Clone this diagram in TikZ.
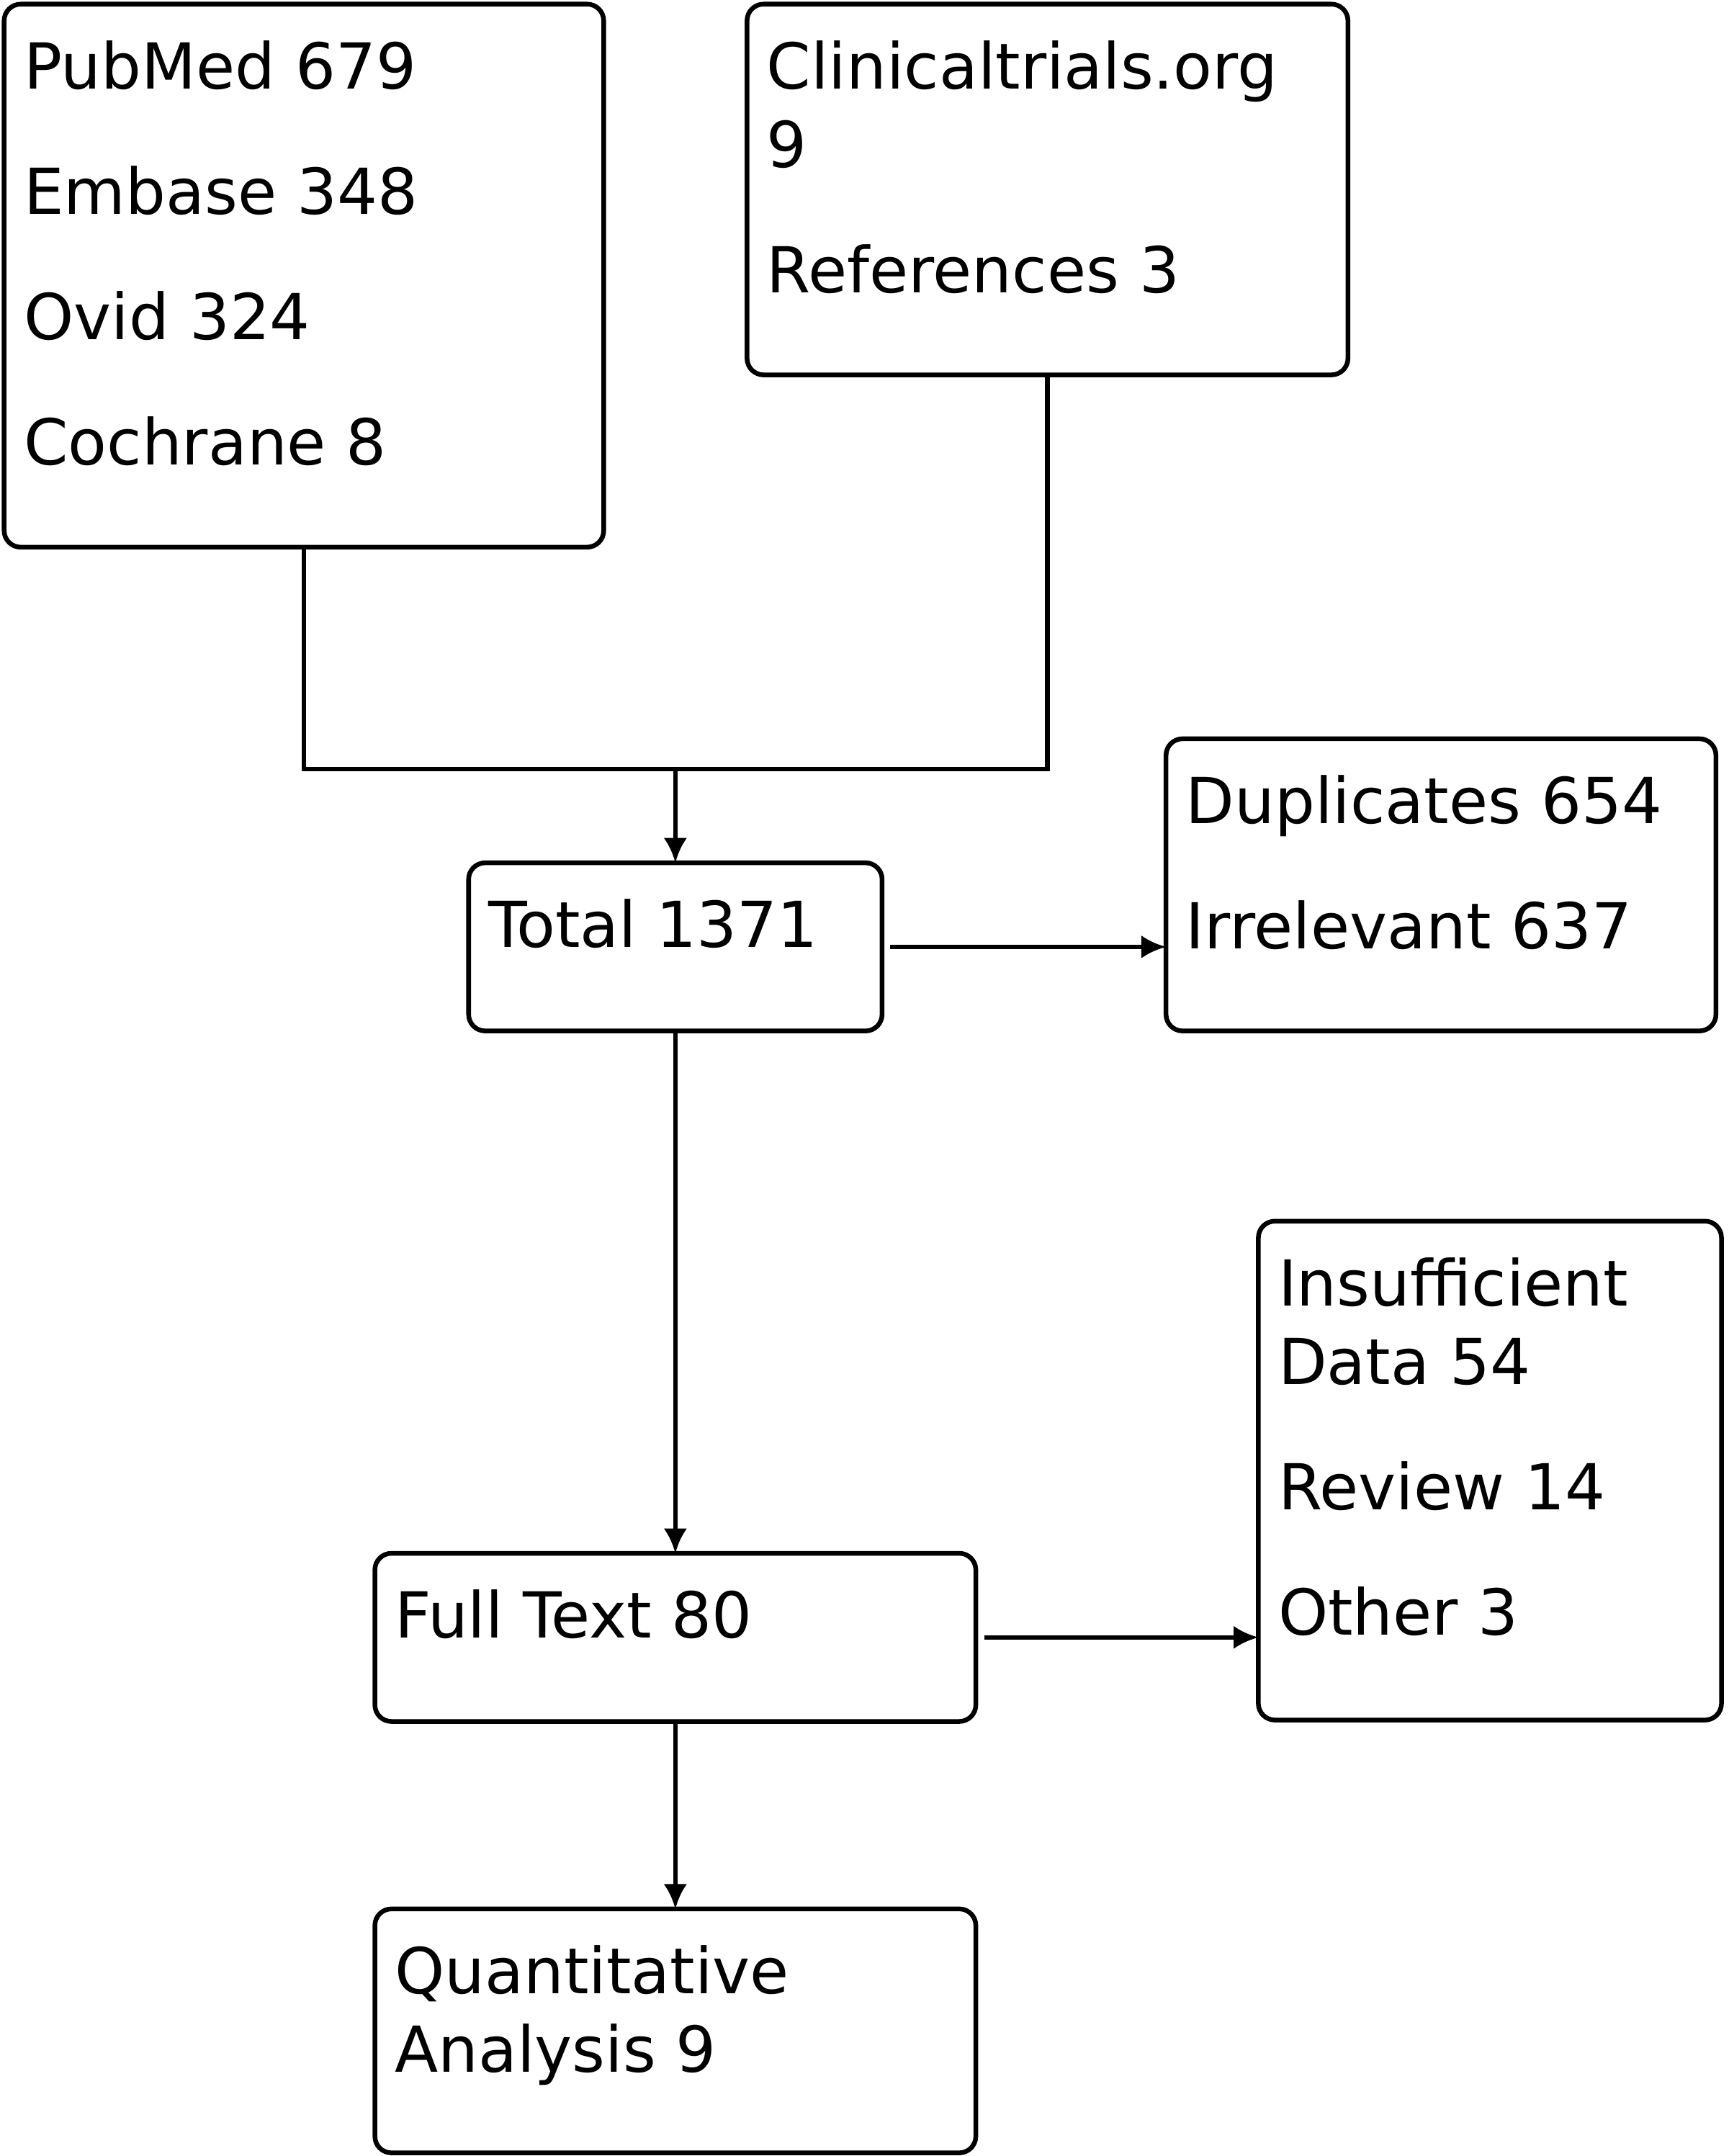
\documentclass[tikz,border=0pt]{standalone}
\usepackage{fontspec}
\setmainfont{DejaVu Sans}
\usetikzlibrary{calc}
\usetikzlibrary{arrows.meta}
\newcommand{\rows}[1]{\begin{tabular}[t]{@{}l@{}}#1\end{tabular}}
\tikzstyle{box}=[draw,rectangle,rounded corners=6pt,line width=1.7pt,inner sep=0pt,outer sep=0pt]
\tikzstyle{txt}=[anchor=base west,inner sep=0pt,font=\fontsize{23pt}{28.5pt}\selectfont]
\tikzstyle{link}=[line width=1.7pt]
\tikzstyle{flow}=[link,-{Latex[length=9pt,width=8.5pt]}]

\begin{document}
\begin{tikzpicture}[x=0.5pt,y=-0.5pt]
\useasboundingbox (0,0) rectangle (1254,1564.3);
% boxes
\node[box,minimum width=217.5pt,minimum height=197pt] (db) at (220.5,200) {};
\node[box,minimum width=218pt,minimum height=134.5pt] (ct) at (760,137.5) {};

\node[box,minimum width=150pt,minimum height=61pt] (total) at (490,687) {};
\node[box,minimum width=199.5pt,minimum height=106pt] (dup) at (1045.5,642) {};

\node[box,minimum width=218pt,minimum height=61pt] (full) at (490,1188) {};
\node[box,minimum width=168pt,minimum height=181pt] (other) at (1081,1067) {};

\node[box,minimum width=218pt,minimum height=88.5pt] (quant) at (490,1473.5) {};

% texts
\node[txt] (dbtxt) at ([xshift=7pt,yshift=-30.75pt]db.north west) {\rows{PubMed 679\\[17pt]Embase 348\\[17pt]Ovid 324\\[17pt]Cochrane 8}};
\node[txt] (cttxt) at ([xshift=7pt,yshift=-30.75pt]ct.north west) {\rows{Clinicaltrials.org\\9\\[17pt]References 3}};
\node[txt] (totaltxt) at ([xshift=7pt,yshift=-30.75pt]total.north west) {Total 1371};
\node[txt] (duptxt) at ([xshift=7pt,yshift=-30.75pt]dup.north west) {\rows{Duplicates 654\\[17pt]Irrelevant 637}};
\node[txt] (fulltxt) at ([xshift=7pt,yshift=-30.75pt]full.north west) {Full Text 80};
\node[txt] (othertxt) at ([xshift=7pt,yshift=-30.75pt]other.north west) {\rows{Insufficient\\Data 54\\[17pt]Review 14\\[17pt]Other 3}};
\node[txt] (quanttxt) at ([xshift=7pt,yshift=-30.75pt]quant.north west) {\rows{Quantitative\\Analysis 9}};

\coordinate (join) at (490,558);

% edges
\draw[link] (db.south) |- (join) -| (ct.south);
\draw[flow] (join) -- (total.north);
\draw[flow,shorten <=3pt] (total.east) -- (total.east -| dup.west);
\draw[flow] (total.south) -- (full.north);
\draw[flow,shorten <=3pt] (full.east) -- (full.east -| other.west);
\draw[flow] (full.south) -- (quant.north);

\end{tikzpicture}
\end{document}
